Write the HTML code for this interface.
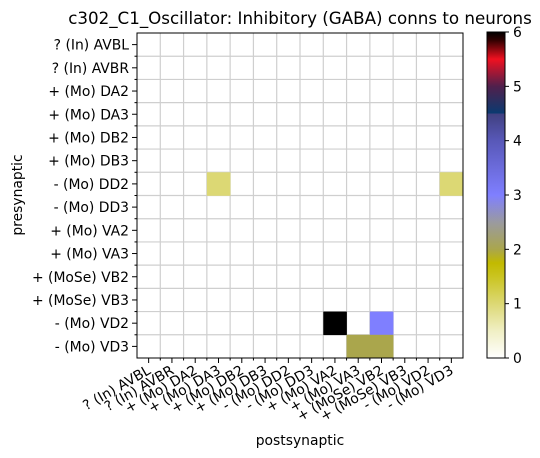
<!DOCTYPE html>
<html><head><meta charset="utf-8"><style>
body{margin:0;background:#fff}
svg{display:block;font-family:"DejaVu Sans","Liberation Sans",sans-serif}
</style></head><body>
<svg id="c" width="540" height="458"></svg>
<script>
const rowLabels=["? (In) AVBL","? (In) AVBR","+ (Mo) DA2","+ (Mo) DA3","+ (Mo) DB2","+ (Mo) DB3","- (Mo) DD2","- (Mo) DD3","+ (Mo) VA2","+ (Mo) VA3","+ (MoSe) VB2","+ (MoSe) VB3","- (Mo) VD2","- (Mo) VD3"];
const colLabels=["? (In) AVBL","? (In) AVBR","+ (Mo) DA2","+ (Mo) DA3","+ (Mo) DB2","+ (Mo) DB3","- (Mo) DD2","- (Mo) DD3","+ (Mo) VA2","+ (Mo) VA3","+ (MoSe) VB2","+ (MoSe) VB3","- (Mo) VD2","- (Mo) VD3"];
const cellRows=[6,6,12,12,13,13];
const cellCols=[3,13,8,10,9,10];
const cellValues=[1,1,6,3,2,2];
const cbTicks=[0,1,2,3,4,5,6];
const vmin=0,vmax=6;
const stops=[[0,"#ffffff"],[0.5,"#f0efc4"],[1,"#dcd874"],[1.5,"#cac420"],[1.75,"#c2ba00"],[2,"#aaa64c"],[2.5,"#9a9aa0"],[3,"#7f7fff"],[4,"#5858b8"],[4.5,"#404080"],[4.501,"#0a3a70"],[5,"#50204c"],[5.5,"#f01020"],[5.85,"#300000"],[6,"#000000"]];
const NS="http://www.w3.org/2000/svg";
const svg=document.getElementById('c');
function el(t,a,p){const e=document.createElementNS(NS,t);for(const k in a)e.setAttribute(k,a[k]);(p||svg).appendChild(e);return e;}
const X0=137,X1=463,Y0=33,Y1=358;
const nC=colLabels.length,nR=rowLabels.length;
const cw=(X1-X0)/nC,ch=(Y1-Y0)/nR;
const xs=i=>X0+i*cw, ys=j=>Y0+j*ch;
const FS=13.9;
function hex(h){return [1,3,5].map(i=>parseInt(h.substr(i,2),16));}
function color(v){v=Math.max(vmin,Math.min(vmax,v));for(let i=1;i<stops.length;i++){if(v<=stops[i][0]){const a=stops[i-1],b=stops[i];const t=(v-a[0])/(b[0]-a[0]);const ca=hex(a[1]),cb=hex(b[1]);return "rgb("+ca.map((c,k)=>Math.round(c+(cb[k]-c)*t)).join(",")+")";}}return stops[stops.length-1][1];}
for(let i=1;i<nC;i++){const l=el('line',{x1:xs(i),x2:xs(i),y1:Y0,y2:Y1,stroke:"#cfcfcf","stroke-width":1.2});}
for(let j=1;j<nR;j++){const l=el('line',{x1:X0,x2:X1,y1:ys(j),y2:ys(j),stroke:"#cfcfcf","stroke-width":1.2});}
for(let k=0;k<cellValues.length;k++){
 const r=el('rect',{x:xs(cellCols[k]),y:ys(cellRows[k]),width:cw+0.3,height:ch+0.3,fill:color(cellValues[k])});
 
 
}
const fr=el('rect',{x:X0,y:Y0,width:X1-X0,height:Y1-Y0,fill:"none",stroke:"#000","stroke-width":1});

for(let j=0;j<nR;j++){
 const y=ys(j+0.5);
 el('line',{x1:X0-5,x2:X0,y1:y,y2:y,stroke:"#000"});
 const t=el('text',{x:X0-8,y:y+5,"text-anchor":"end","font-size":FS,fill:"#000"});t.textContent=rowLabels[j];
 
}
for(let j=1;j<nR;j++){el('line',{x1:X0-2.5,x2:X0,y1:ys(j),y2:ys(j),stroke:"#000"});}
for(let i=0;i<nC;i++){
 const x=xs(i+0.5);
 el('line',{x1:x,x2:x,y1:Y1,y2:Y1+5,stroke:"#000"});
 const t=el('text',{x:x+3,y:Y1+15,"text-anchor":"end","font-size":FS,fill:"#000",transform:`rotate(-30 ${x+3} ${Y1+15})`});t.textContent=colLabels[i];
 
}
for(let i=1;i<nC;i++){el('line',{x1:xs(i),x2:xs(i),y1:Y1,y2:Y1+2.5,stroke:"#000"});}
let t=el('text',{x:300,y:24,"text-anchor":"middle","font-size":16.7});t.textContent="c302_C1_Oscillator: Inhibitory (GABA) conns to neurons";

t=el('text',{x:300,y:445,"text-anchor":"middle","font-size":FS});t.textContent="postsynaptic";

t=el('text',{x:22,y:195,"text-anchor":"middle","font-size":FS,transform:"rotate(-90 22 195)"});t.textContent="presynaptic";

const CX0=487,CX1=505,CY0=32,CY1=358;
const cy=v=>CY1-(v-vmin)/(vmax-vmin)*(CY1-CY0);
const defs=el('defs',{});
const g=el('linearGradient',{id:"cg",x1:0,y1:1,x2:0,y2:0},defs);
stops.forEach(s=>el('stop',{offset:(s[0]-vmin)/(vmax-vmin),"stop-color":s[1]},g));
const cb=el('rect',{x:CX0,y:CY0,width:CX1-CX0,height:CY1-CY0,fill:"url(#cg)",stroke:"#000","stroke-width":1});

cbTicks.forEach(v=>{
 el('line',{x1:CX1,x2:CX1+4,y1:cy(v),y2:cy(v),stroke:"#000"});
 const tt=el('text',{x:CX1+8,y:cy(v)+5,"font-size":FS});tt.textContent=v;
 
});
</script>
</body></html>
